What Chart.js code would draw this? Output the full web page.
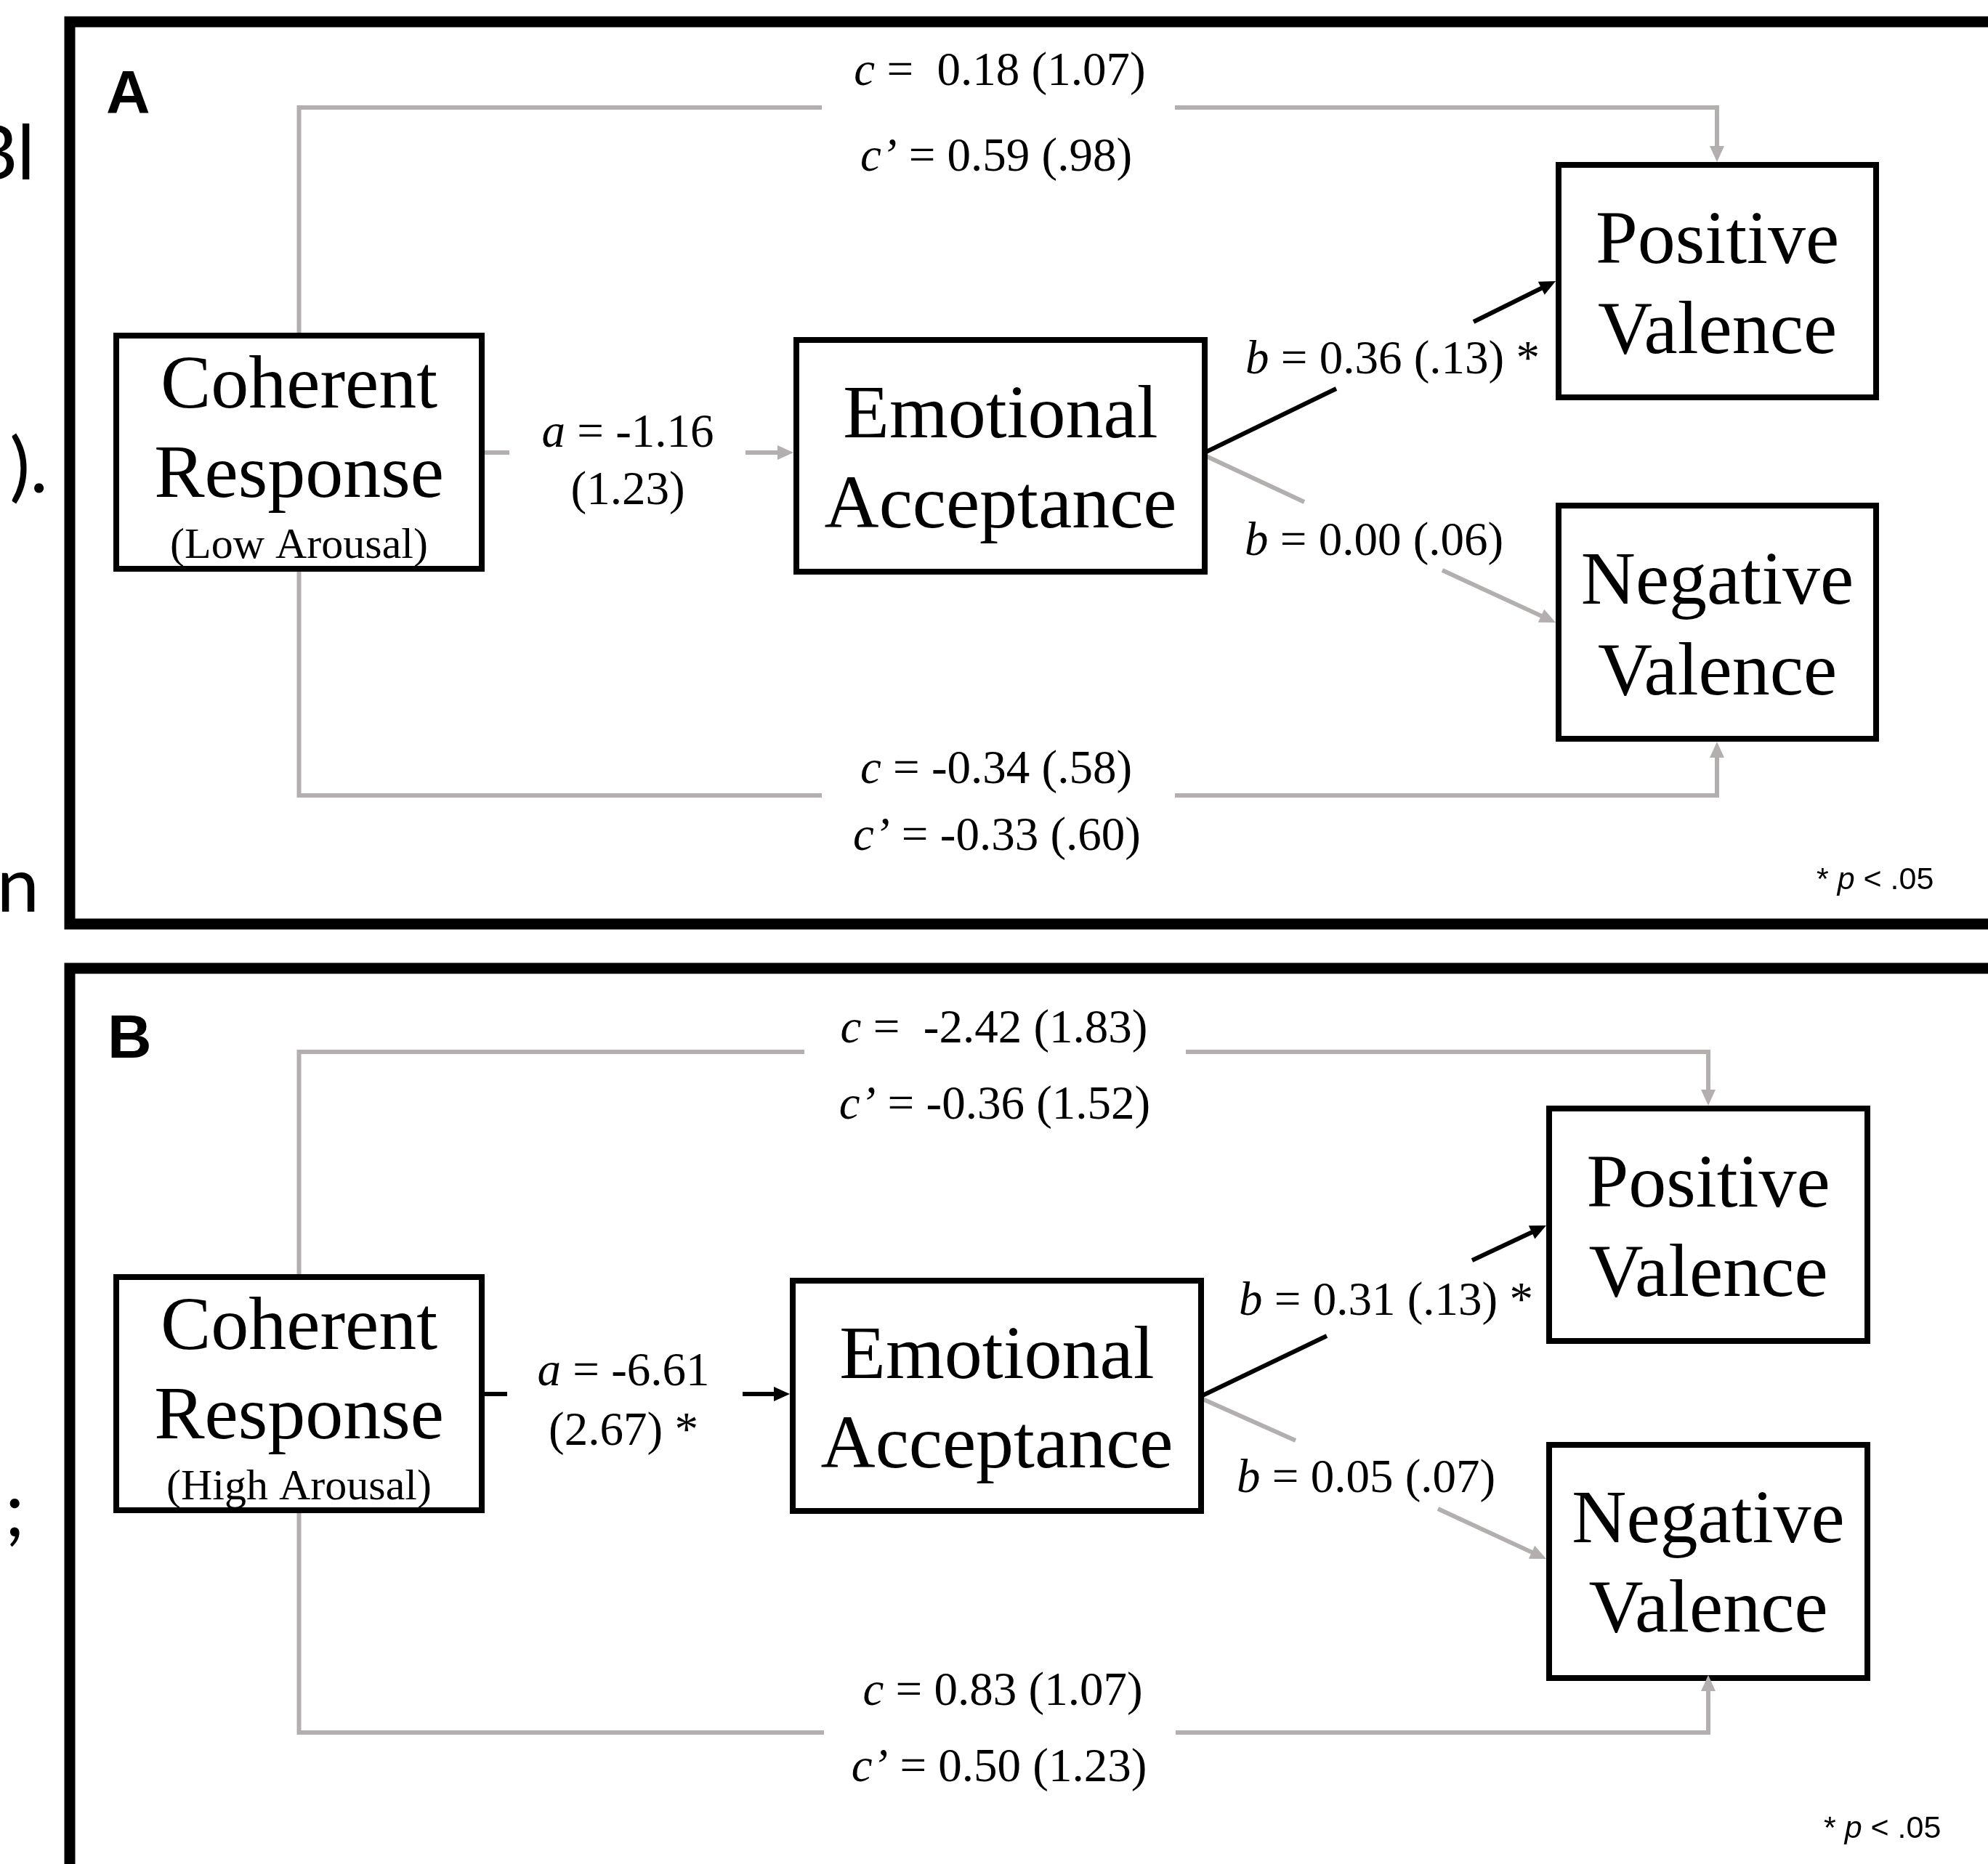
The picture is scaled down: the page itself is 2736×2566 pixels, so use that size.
<!DOCTYPE html>
<html>
<head>
<meta charset="utf-8">
<script src="https://cdn.jsdelivr.net/npm/chart.js@4.4.1/dist/chart.umd.min.js"></script>
<style>
  html, body { margin: 0; padding: 0; background: #fff; }
  canvas { display: block; }
</style>
</head>
<body>
<canvas id="myChart" width="2736" height="2566"></canvas>
<script>
// ---- values ----
const panels = ['A', 'B'];
const arousal = ['(Low Arousal)', '(High Arousal)'];
const nodeNames = [['Coherent', 'Response'], ['Emotional', 'Acceptance'], ['Positive', 'Valence'], ['Negative', 'Valence']];
const aCoef = ['-1.16', '-6.61'];
const aSE = ['1.23', '2.67'];
const aSig = [false, true];
const bPos = ['0.36', '0.31'];
const bPosSE = ['.13', '.13'];
const bPosSig = [true, true];
const bNeg = ['0.00', '0.05'];
const bNegSE = ['.06', '.07'];
const bNegSig = [false, false];
const cPos = ['0.18', '-2.42'];
const cPosSE = ['1.07', '1.83'];
const cpPos = ['0.59', '-0.36'];
const cpPosSE = ['.98', '1.52'];
const cNeg = ['-0.34', '0.83'];
const cNegSE = ['.58', '1.07'];
const cpNeg = ['-0.33', '0.50'];
const cpNegSE = ['.60', '1.23'];
const noteText = ['* ', 'p', ' < .05'];
// clipped words of the surrounding page text at the left edge
const edgeText = ['Bl', ').', 'n', ';'];

// ---- layout (diagram units = axis units) ----
const layout = [
  {
    frame: [96, 30, 2790, 1272], letter: [146, 156],
    boxes: [[160, 462, 663, 783], [1096, 468, 1658, 787], [2145, 227, 2582, 547], [2145, 696, 2582, 1017]],
    nameBase: [[561, 684], [602, 726], [362, 486], [831, 956]], arousalBase: 768,
    top: { y: 148, gap: [1131, 1617], x: 2363, tip: 223 },
    bottom: { y: 1095, gap: [1131, 1617], x: 2363, tip: 1021 },
    aLine: { y: 623, seg1: [663, 701], seg2: [1026, 1092] },
    bPosLine: [[1658, 623], [1839, 535], [2028, 443], [2141, 387]],
    bNegLine: [[1658, 627], [1795, 691], [1985, 785], [2141, 857]],
    cTopLbl: [1376, 117], cpTopLbl: [1371, 235], aLbl: [864, 615, 694],
    bPosLbl: [1714, 514], bNegLbl: [1713, 764], cBotLbl: [1371, 1078], cpBotLbl: [1372, 1170],
    note: [2500, 1224]
  },
  {
    frame: [96, 1333, 2790, 2620], letter: [148, 1456],
    boxes: [[160, 1758, 663, 2079], [1091, 1763, 1653, 2080], [2132, 1526, 2570, 1846], [2132, 1989, 2570, 2310]],
    nameBase: [[1857, 1980], [1897, 2020], [1661, 1784], [2123, 2246]], arousalBase: 2064,
    top: { y: 1448, gap: [1107, 1632], x: 2351, tip: 1522 },
    bottom: { y: 2385, gap: [1134, 1618], x: 2351, tip: 2306 },
    aLine: { y: 1919, seg1: [663, 698], seg2: [1022, 1087] },
    bPosLine: [[1653, 1922], [1826, 1839], [2026, 1735], [2128, 1687]],
    bNegLine: [[1653, 1925], [1783, 1983], [1979, 2077], [2128, 2146]],
    cTopLbl: [1368, 1435], cpTopLbl: [1369, 1540], aLbl: [858, 1907, 1989],
    bPosLbl: [1705, 1810], bNegLbl: [1702, 2054], cBotLbl: [1380, 2347], cpBotLbl: [1375, 2452],
    note: [2510, 2530]
  }
];
const edgePos = [[48, 247], [66, 678], [54, 1255], [34, 2115]];

const GREY = '#b2afae';
const BLACK = '#000000';
const SERIF = '"Liberation Serif", "Times New Roman", Times, serif';
const SANS = '"Liberation Sans", Arial, Helvetica, sans-serif';
const ARROW_LEN = 22, ARROW_HALF = 10, ARROW_BACK = 14;

const datasets = [];

function addLine(pts, color, width, opts) {
  opts = opts || {};
  let data = pts.map(p => ({ x: p[0], y: p[1] }));
  let tip = null;
  if (opts.arrow) {
    const a = pts[pts.length - 2], b = pts[pts.length - 1];
    const len = Math.hypot(b[0] - a[0], b[1] - a[1]);
    tip = { x: b[0], y: b[1] };
    data[data.length - 1] = { x: b[0] - (b[0] - a[0]) / len * ARROW_BACK, y: b[1] - (b[1] - a[1]) / len * ARROW_BACK };
  }
  datasets.push({
    data: data,
    showLine: true,
    borderColor: color,
    borderWidth: width,
    pointRadius: 0,
    pointHoverRadius: 0,
    fill: false,
    tension: 0,
    borderCapStyle: opts.cap || 'butt',
    borderJoinStyle: 'miter',
    arrowTip: tip
  });
}

function addRect(r, width) {
  addLine([[r[0], r[1]], [r[2], r[1]], [r[2], r[3]], [r[0], r[3]], [r[0], r[1]]], BLACK, width, { cap: 'square' });
}

layout.forEach((L, i) => {
  addRect(L.frame, 15);
  L.boxes.forEach(b => addRect(b, 8));
  const cx = (L.boxes[0][0] + L.boxes[0][2]) / 2;
  // direct paths (c / c')
  addLine([[cx, L.boxes[0][1]], [cx, L.top.y], [L.top.gap[0], L.top.y]], GREY, 6);
  addLine([[L.top.gap[1], L.top.y], [L.top.x, L.top.y], [L.top.x, L.top.tip]], GREY, 6, { arrow: true });
  addLine([[cx, L.boxes[0][3]], [cx, L.bottom.y], [L.bottom.gap[0], L.bottom.y]], GREY, 6);
  addLine([[L.bottom.gap[1], L.bottom.y], [L.bottom.x, L.bottom.y], [L.bottom.x, L.bottom.tip]], GREY, 6, { arrow: true });
  // a path
  const aCol = aSig[i] ? BLACK : GREY;
  addLine([[L.aLine.seg1[0], L.aLine.y], [L.aLine.seg1[1], L.aLine.y]], aCol, 6);
  addLine([[L.aLine.seg2[0], L.aLine.y], [L.aLine.seg2[1], L.aLine.y]], aCol, 6, { arrow: true });
  // b paths
  const bp = L.bPosLine, bn = L.bNegLine;
  const bpCol = bPosSig[i] ? BLACK : GREY, bnCol = bNegSig[i] ? BLACK : GREY;
  addLine([bp[0], bp[1]], bpCol, 6);
  addLine([bp[2], bp[3]], bpCol, 6, { arrow: true });
  addLine([bn[0], bn[1]], bnCol, 6);
  addLine([bn[2], bn[3]], bnCol, 6, { arrow: true });
});

const arrowPlugin = {
  id: 'arrowHeads',
  afterDatasetsDraw(chart) {
    const { ctx, scales: { x, y } } = chart;
    chart.data.datasets.forEach(ds => {
      if (!ds.arrowTip) return;
      const p0 = ds.data[ds.data.length - 2];
      const tx = x.getPixelForValue(ds.arrowTip.x), ty = y.getPixelForValue(ds.arrowTip.y);
      const bx = x.getPixelForValue(p0.x), by = y.getPixelForValue(p0.y);
      const ang = Math.atan2(ty - by, tx - bx);
      ctx.save();
      ctx.translate(tx, ty);
      ctx.rotate(ang);
      ctx.beginPath();
      ctx.moveTo(0, 0);
      ctx.lineTo(-ARROW_LEN, -ARROW_HALF);
      ctx.lineTo(-ARROW_LEN, ARROW_HALF);
      ctx.closePath();
      ctx.fillStyle = ds.borderColor;
      ctx.fill();
      ctx.restore();
    });
  }
};

// italic variable + regular rest
function drawEq(ctx, v, rest, px, py, align, size) {
  ctx.font = 'italic ' + size + 'px ' + SERIF;
  const w1 = ctx.measureText(v).width;
  ctx.font = size + 'px ' + SERIF;
  const w2 = ctx.measureText(rest).width;
  const x0 = align === 'center' ? px - (w1 + w2) / 2 : px;
  ctx.textAlign = 'left';
  ctx.font = 'italic ' + size + 'px ' + SERIF;
  ctx.fillText(v, x0, py);
  ctx.font = size + 'px ' + SERIF;
  ctx.fillText(rest, x0 + w1, py);
}

const textPlugin = {
  id: 'diagramText',
  afterDraw(chart) {
    const { ctx, scales: { x, y } } = chart;
    const X = v => x.getPixelForValue(v), Y = v => y.getPixelForValue(v);
    ctx.save();
    ctx.fillStyle = '#000';
    ctx.textBaseline = 'alphabetic';

    edgeText.forEach((t, k) => {
      ctx.font = '105px Lato, "Open Sans", sans-serif';
      ctx.textAlign = 'right';
      ctx.fillText(t, X(edgePos[k][0]), Y(edgePos[k][1]));
    });

    layout.forEach((L, i) => {
      ctx.font = 'bold 84px ' + SANS;
      ctx.textAlign = 'left';
      ctx.fillText(panels[i], X(L.letter[0]), Y(L.letter[1]));

      L.boxes.forEach((b, k) => {
        const cx = X((b[0] + b[2]) / 2);
        ctx.font = '104px ' + SERIF;
        ctx.textAlign = 'center';
        ctx.fillText(nodeNames[k][0], cx, Y(L.nameBase[k][0]));
        ctx.fillText(nodeNames[k][1], cx, Y(L.nameBase[k][1]));
        if (k === 0) {
          ctx.font = '60px ' + SERIF;
          ctx.fillText(arousal[i], cx, Y(L.arousalBase));
        }
      });

      const S = 65;
      drawEq(ctx, 'c', ' =  ' + cPos[i] + ' (' + cPosSE[i] + ')', X(L.cTopLbl[0]), Y(L.cTopLbl[1]), 'center', S);
      drawEq(ctx, 'c’', ' = ' + cpPos[i] + ' (' + cpPosSE[i] + ')', X(L.cpTopLbl[0]), Y(L.cpTopLbl[1]), 'center', S);
      drawEq(ctx, 'a', ' = ' + aCoef[i], X(L.aLbl[0]), Y(L.aLbl[1]), 'center', S);
      drawEq(ctx, '', '(' + aSE[i] + ')' + (aSig[i] ? ' *' : ''), X(L.aLbl[0]), Y(L.aLbl[2]), 'center', S);
      drawEq(ctx, 'b', ' = ' + bPos[i] + ' (' + bPosSE[i] + ')' + (bPosSig[i] ? ' *' : ''), X(L.bPosLbl[0]), Y(L.bPosLbl[1]), 'left', S);
      drawEq(ctx, 'b', ' = ' + bNeg[i] + ' (' + bNegSE[i] + ')' + (bNegSig[i] ? ' *' : ''), X(L.bNegLbl[0]), Y(L.bNegLbl[1]), 'left', S);
      drawEq(ctx, 'c', ' = ' + cNeg[i] + ' (' + cNegSE[i] + ')', X(L.cBotLbl[0]), Y(L.cBotLbl[1]), 'center', S);
      drawEq(ctx, 'c’', ' = ' + cpNeg[i] + ' (' + cpNegSE[i] + ')', X(L.cpBotLbl[0]), Y(L.cpBotLbl[1]), 'center', S);

      // significance note
      let nx = X(L.note[0]);
      const ny = Y(L.note[1]);
      ctx.textAlign = 'left';
      ctx.font = '43px ' + SANS;
      ctx.fillText(noteText[0], nx, ny);
      nx += ctx.measureText(noteText[0]).width;
      ctx.font = 'italic 43px ' + SANS;
      ctx.fillText(noteText[1], nx, ny);
      nx += ctx.measureText(noteText[1]).width;
      ctx.font = '43px ' + SANS;
      ctx.fillText(noteText[2], nx, ny);
    });
    ctx.restore();
  }
};

new Chart(document.getElementById('myChart'), {
  type: 'scatter',
  data: { datasets: datasets },
  options: {
    responsive: false,
    animation: false,
    events: [],
    layout: { padding: 0 },
    plugins: { legend: { display: false }, tooltip: { enabled: false } },
    scales: {
      x: { type: 'linear', min: 0, max: 2736, display: false },
      y: { type: 'linear', min: 0, max: 2566, reverse: true, display: false }
    }
  },
  plugins: [arrowPlugin, textPlugin]
});
</script>
</body>
</html>
